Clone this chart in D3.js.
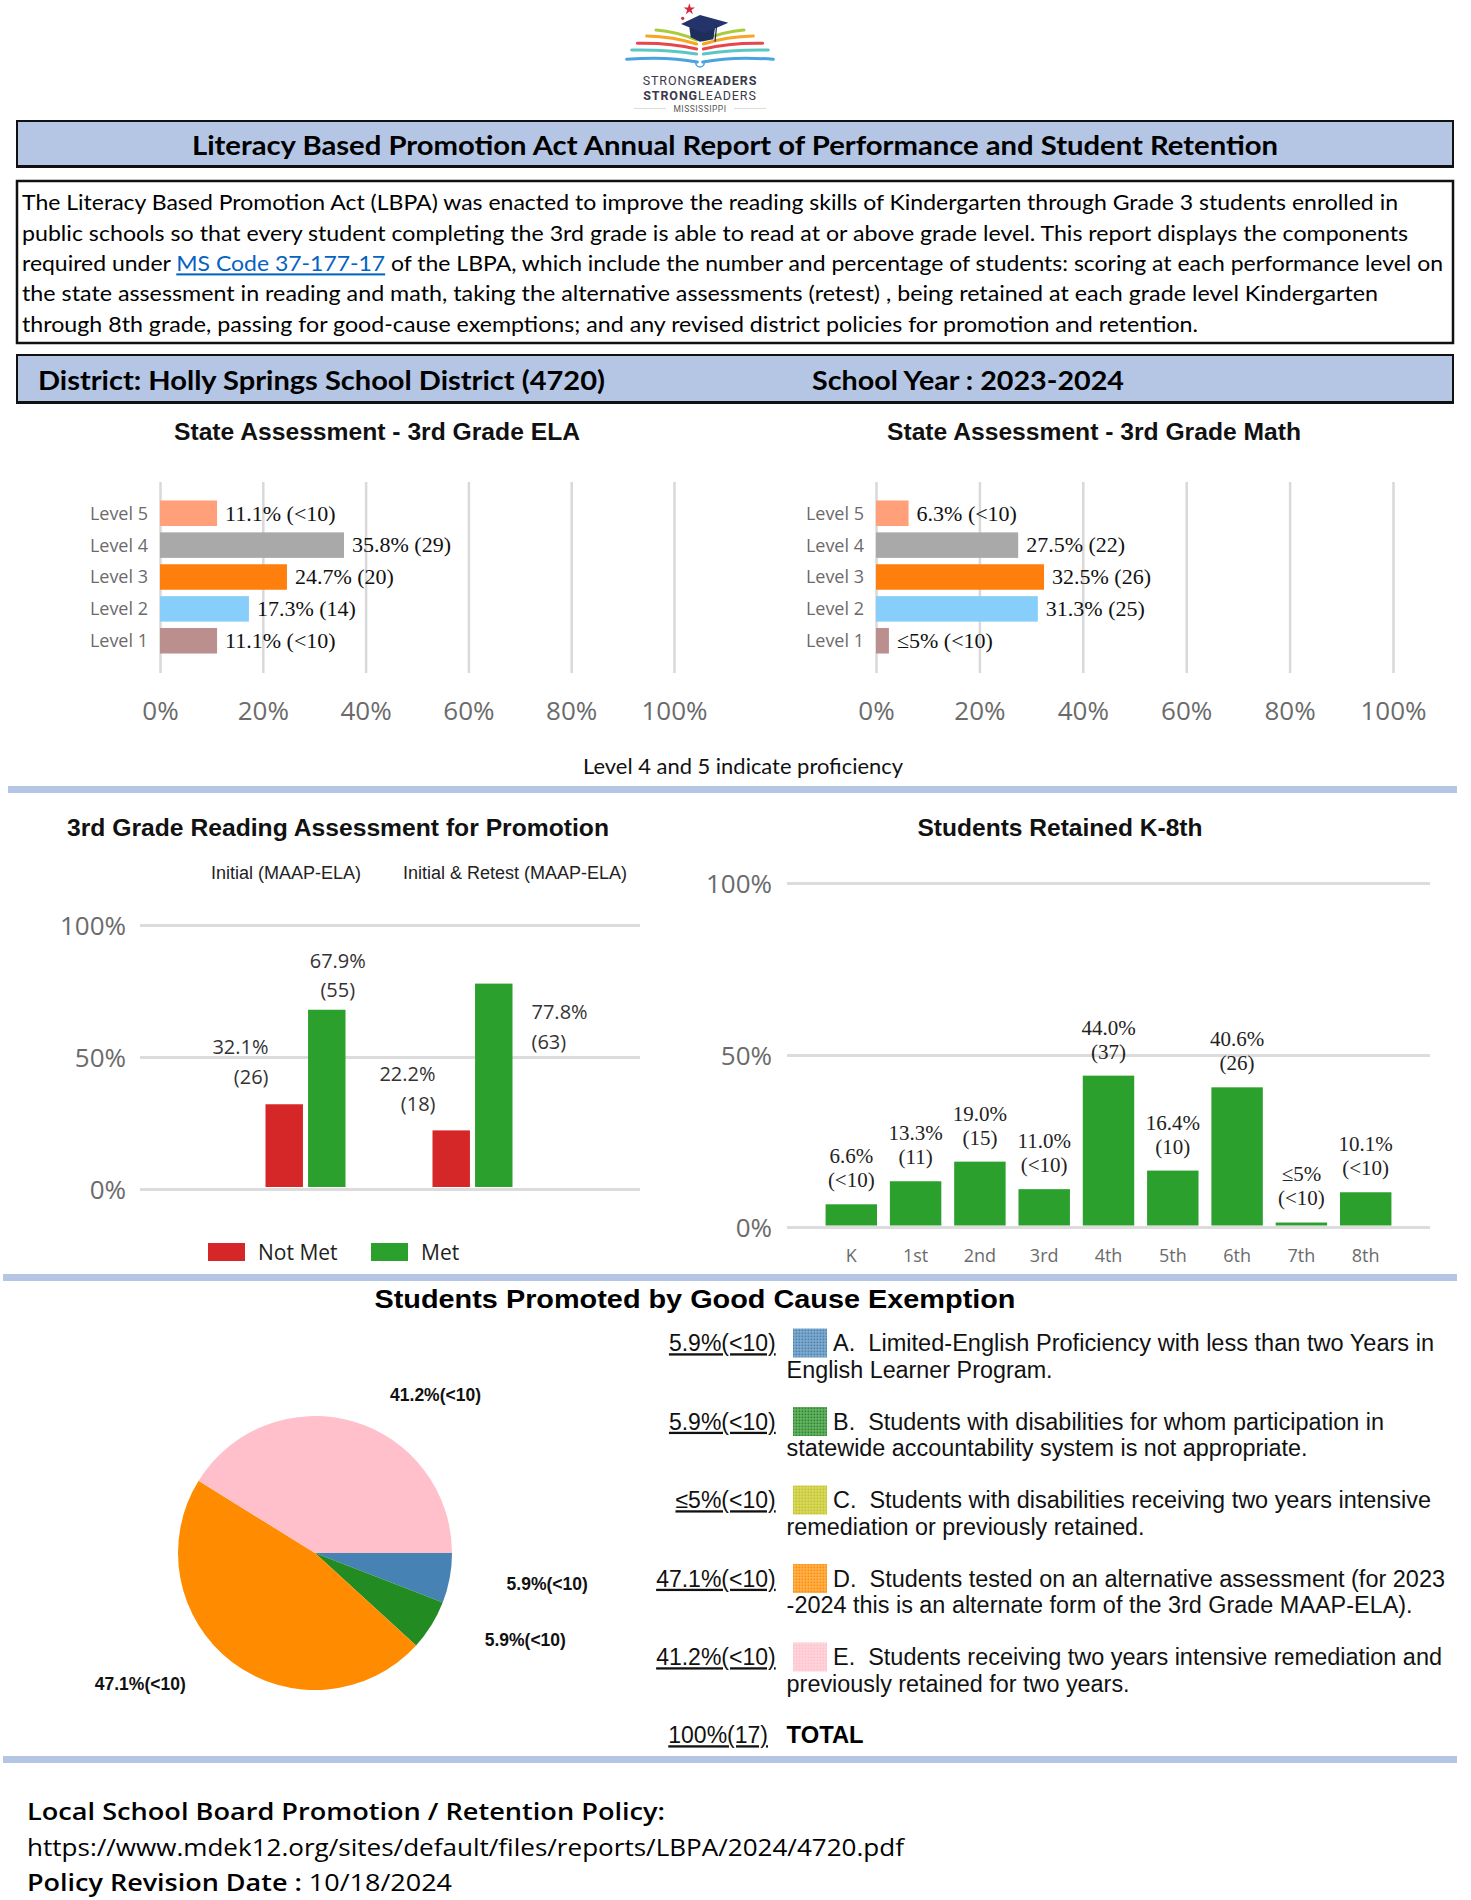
<!DOCTYPE html>
<html><head><meta charset="utf-8">
<script src="https://cdn.jsdelivr.net/npm/d3@7"></script>
<style>
html,body{margin:0;padding:0;background:#fff;}
svg{display:block;}
text{white-space:pre;}
</style></head>
<body>
<svg id="page" width="1471" height="1900"></svg>
<script>
// ================= DATA =================
const levels = ["Level 5","Level 4","Level 3","Level 2","Level 1"];
const levelColors = ["#ffa07a","#a9a9a9","#ff7f0e","#87cefa","#bc8f8f"];
const elaValues = [11.1, 35.8, 24.7, 17.3, 11.1];
const elaLabels = ["11.1% (<10)","35.8% (29)","24.7% (20)","17.3% (14)","11.1% (<10)"];
const mathValues = [6.3, 27.5, 32.5, 31.3, 2.5];
const mathLabels = ["6.3% (<10)","27.5% (22)","32.5% (26)","31.3% (25)","≤5% (<10)"];
const pctTicks = [0,20,40,60,80,100];

const promoGroups = ["Initial (MAAP-ELA)","Initial & Retest (MAAP-ELA)"];
const promoSeries = ["Not Met","Met"];
const promoColors = ["#d62728","#2ca02c"];
const notMetValues = [32.1, 22.2];
const metValues = [67.9, 77.8];
const notMetCounts = ["(26)","(18)"];
const metCounts = ["(55)","(63)"];
const promoTicks = [0,50,100];

const grades = ["K","1st","2nd","3rd","4th","5th","6th","7th","8th"];
const retainedValues = [6.6,13.3,19.0,11.0,44.0,16.4,40.6,1.3,10.1];
const retainedPct = ["6.6%","13.3%","19.0%","11.0%","44.0%","16.4%","40.6%","≤5%","10.1%"];
const retainedCounts = ["(<10)","(11)","(15)","(<10)","(37)","(10)","(26)","(<10)","(<10)"];
const retainedTicks = [0,50,100];

const gceCodes = ["A","B","C","D","E"];
const gceValues = [5.9, 5.9, 0, 47.1, 41.2];
const gceLabels = ["5.9%(<10)","5.9%(<10)","≤5%(<10)","47.1%(<10)","41.2%(<10)"];
const gceColors = ["#4682b4","#228b22","#c4c41c","#ff8c00","#ffc0cb"];
const gceLine1 = [
  "A.  Limited-English Proficiency with less than two Years in",
  "B.  Students with disabilities for whom participation in",
  "C.  Students with disabilities receiving two years intensive",
  "D.  Students tested on an alternative assessment (for 2023",
  "E.  Students receiving two years intensive remediation and"];
const gceLine2 = [
  "English Learner Program.",
  "statewide accountability system is not appropriate.",
  "remediation or previously retained.",
  "-2024 this is an alternate form of the 3rd Grade MAAP-ELA).",
  "previously retained for two years."];
const gceTotal = "100%(17)";

const descLines = [
  "The Literacy Based Promotion Act (LBPA) was enacted to improve the reading skills of Kindergarten through Grade 3 students enrolled in",
  "public schools so that every student completing the 3rd grade is able to read at or above grade level. This report displays the components",
  ["required under ","MS Code 37-177-17"," of the LBPA, which include the number and percentage of students: scoring at each performance level on"],
  "the state assessment in reading and math, taking the alternative assessments (retest) , being retained at each grade level Kindergarten",
  "through 8th grade, passing for good-cause exemptions; and any revised district policies for promotion and retention."
];

// ================= HELPERS =================
const svg = d3.select('#page');
const F_CAL = "Lato, 'Open Sans', sans-serif";
const F_ARIAL = "'Liberation Sans', Arial, sans-serif";
const F_SEGOE = "'Open Sans', 'Noto Sans', sans-serif";
const F_TIMES = "'Liberation Serif', 'Times New Roman', serif";

function styleText(t, s) {
  t.attr('font-family', s.family).attr('font-size', s.size)
   .attr('font-weight', s.weight || 'normal').attr('fill', s.fill || '#000');
  if (s.deco) t.attr('text-decoration', s.deco);
  return t;
}
function richLine(parent, x, yc, pieces, target, base, anchor, dyEm) {
  anchor = anchor || 'start';
  const g = parent.append('g');
  const nodes = pieces.map(p => {
    const t = g.append('text').attr('y', yc).attr('dy', (dyEm == null ? 0.36 : dyEm) + 'em').text(p.t);
    styleText(t, Object.assign({}, base, p));
    return t;
  });
  const widths = nodes.map(n => n.node().getComputedTextLength());
  const total = d3.sum(widths);
  const k = target ? target / total : 1;
  let x0 = anchor === 'start' ? x : anchor === 'end' ? x - total * k : x - total * k / 2;
  nodes.forEach((n, i) => {
    n.attr('x', x0);
    if (target) n.attr('textLength', widths[i] * k).attr('lengthAdjust', 'spacingAndGlyphs');
    x0 += widths[i] * k;
  });
  return g;
}

const BAND = "#b4c6e4";

// ================= LOGO =================
(function logo() {
  const g = svg.append('g');
  const P = (x, y) => [x / 3 + 600, y / 3];
  const curves = [
    ["#a8cc3c", [168,90],[230,95],[290,120]],
    ["#f5a623", [140,108],[220,110],[290,132]],
    ["#e8464f", [112,130],[210,128],[290,147]],
    ["#5cc6c4", [95,150],[200,148],[290,162]],
    ["#4aa3df", [80,178],[200,168],[292,186]]
  ];
  curves.forEach(([c, a, m, b]) => {
    [1, -1].forEach(s => {
      const mx = v => s === 1 ? v : 600 - v;
      const p = d3.path();
      const A = P(mx(a[0]), a[1]), M = P(mx(m[0]), m[1]), B = P(mx(b[0]), b[1]);
      p.moveTo(A[0], A[1]); p.quadraticCurveTo(M[0], M[1], B[0], B[1]);
      g.append('path').attr('d', p.toString()).attr('fill', 'none').attr('stroke', c)
        .attr('stroke-width', 3).attr('stroke-linecap', 'round');
    });
  });
  const cc = P(300, 188);
  g.append('path').attr('d', d3.arc()({innerRadius: 3.5, outerRadius: 5, startAngle: Math.PI / 2, endAngle: 3 * Math.PI / 2}))
    .attr('transform', `translate(${cc[0]},${cc[1]})`).attr('fill', '#4aa3df');
  const cap = [P(300,45), P(243,72), P(312,100), P(385,68)];
  const body = [P(268,82), P(345,84), P(340,118), P(300,125), P(272,112)];
  g.append('polygon').attr('points', body.map(d => d.join(',')).join(' ')).attr('fill', '#1f2d5a');
  g.append('polygon').attr('points', cap.map(d => d.join(',')).join(' ')).attr('fill', '#24336a');
  const t1 = P(350,75), t2 = P(345,125);
  g.append('line').attr('x1', t1[0]).attr('y1', t1[1]).attr('x2', t2[0]).attr('y2', t2[1]).attr('stroke', '#1f2d5a').attr('stroke-width', 1.2);
  const st = P(268,28);
  g.append('path').attr('d', d3.symbol(d3.symbolStar, 40)()).attr('transform', `translate(${st[0]},${st[1]})`).attr('fill', '#d7263d');
  const dt = P(248,55);
  g.append('circle').attr('cx', dt[0]).attr('cy', dt[1]).attr('r', 1.6).attr('fill', '#d7263d');
  const logoText = (yc, parts) => {
    const t = g.append('text').attr('x', 700).attr('y', yc).attr('dy', '0.36em').attr('text-anchor', 'middle')
      .attr('font-family', "Roboto, 'Open Sans', sans-serif").attr('font-size', 12.5).attr('letter-spacing', 0.9)
      .attr('fill', '#3a3a4c');
    parts.forEach(([s, w]) => t.append('tspan').attr('font-weight', w).text(s));
  };
  logoText(80.5, [['STRONG', 'normal'], ['READERS', 'bold']]);
  logoText(95, [['STRONG', 'bold'], ['LEADERS', 'normal']]);
  g.append('text').attr('x', 700).attr('y', 108.5).attr('dy', '0.36em').attr('text-anchor', 'middle')
    .attr('font-family', "Roboto, sans-serif").attr('font-size', 8.5).attr('fill', '#555').attr('letter-spacing', 0.5).text('MISSISSIPPI');
  g.append('line').attr('x1', 634).attr('x2', 666).attr('y1', 108.5).attr('y2', 108.5).attr('stroke', '#ddd');
  g.append('line').attr('x1', 734).attr('x2', 766).attr('y1', 108.5).attr('y2', 108.5).attr('stroke', '#ddd');
})();

// ================= HEADER BOXES =================
svg.append('rect').attr('x', 17).attr('y', 121).attr('width', 1436).attr('height', 45)
  .attr('fill', BAND).attr('stroke', '#111').attr('stroke-width', 2);
svg.append('line').attr('x1', 16).attr('x2', 1454).attr('y1', 166.5).attr('y2', 166.5).attr('stroke', '#111').attr('stroke-width', 3);
richLine(svg, 735, 145, [{t: 'Literacy Based Promotion Act Annual Report of Performance and Student Retention'}], 1086,
  {family: F_CAL, size: 27, weight: 'bold', fill: '#000'}, 'middle');

svg.append('rect').attr('x', 17).attr('y', 181).attr('width', 1436).attr('height', 162)
  .attr('fill', '#fff').attr('stroke', '#111').attr('stroke-width', 2.5);
const descY = [203, 234, 264, 294, 325];
const descW = [1376, 1386, 1421, 1356, 1176];
descLines.forEach((ln, i) => {
  const pieces = Array.isArray(ln)
    ? [{t: ln[0]}, {t: ln[1], fill: '#0563c1', deco: 'underline'}, {t: ln[2]}]
    : [{t: ln}];
  richLine(svg, 22, descY[i], pieces, descW[i], {family: F_CAL, size: 20.5, fill: '#000'}, 'start');
});

svg.append('rect').attr('x', 17).attr('y', 355).attr('width', 1436).attr('height', 47)
  .attr('fill', BAND).attr('stroke', '#111').attr('stroke-width', 2);
svg.append('line').attr('x1', 16).attr('x2', 1454).attr('y1', 402.5).attr('y2', 402.5).attr('stroke', '#111').attr('stroke-width', 3);
richLine(svg, 38, 381, [{t: 'District: Holly Springs School District (4720)'}], 567, {family: F_CAL, size: 26, weight: 'bold'}, 'start');
richLine(svg, 812, 381, [{t: 'School Year : 2023-2024'}], 312, {family: F_CAL, size: 26, weight: 'bold'}, 'start');

// ================= HORIZONTAL BAR CHARTS =================
function hbar(x0, x1, values, labels, title, titleCx, titleW) {
  const g = svg.append('g');
  const x = d3.scaleLinear().domain([0, 100]).range([x0, x1]);
  const y = d3.scaleBand().domain(levels).range([482, 672]).paddingInner(0.2).paddingOuter(0.58);
  richLine(g, titleCx, 432, [{t: title}], titleW, {family: F_ARIAL, size: 23, weight: 'bold', fill: '#111'}, 'middle');
  const ax = g.append('g').attr('transform', 'translate(0,482)')
    .call(d3.axisBottom(x).tickValues(pctTicks).tickFormat(d => d + '%').tickSize(191).tickPadding(29));
  ax.select('.domain').remove();
  ax.selectAll('.tick line').attr('stroke', '#d9d9d9').attr('stroke-width', 2.5);
  ax.selectAll('.tick text').attr('font-family', F_SEGOE).attr('font-size', 26).attr('fill', '#6b6b6b');
  const ay = g.append('g').attr('transform', `translate(${x0},0)`)
    .call(d3.axisLeft(y).tickSize(0).tickPadding(12));
  ay.select('.domain').remove();
  ay.selectAll('.tick text').attr('font-family', F_SEGOE).attr('font-size', 18).attr('fill', '#6b6b6b').attr('dy', '0.36em');
  g.selectAll('rect.bar').data(values).join('rect').attr('class', 'bar')
    .attr('x', x(0)).attr('y', (d, i) => y(levels[i])).attr('width', d => x(d) - x(0))
    .attr('height', y.bandwidth()).attr('fill', (d, i) => levelColors[i]);
  g.selectAll('text.val').data(values).join('text').attr('class', 'val')
    .attr('x', d => x(d) + 8).attr('y', (d, i) => y(levels[i]) + y.bandwidth() / 2).attr('dy', '0.33em')
    .attr('font-family', F_TIMES).attr('font-size', 22).attr('fill', '#111')
    .text((d, i) => labels[i]);
}
hbar(160, 674, elaValues, elaLabels, 'State Assessment - 3rd Grade ELA', 377, 406);
hbar(876, 1393, mathValues, mathLabels, 'State Assessment - 3rd Grade Math', 1094, 414);
richLine(svg, 743, 767, [{t: 'Level 4 and 5 indicate proficiency'}], 320, {family: F_CAL, size: 20.5, fill: '#111'}, 'middle');

// separators
[[8, 786], [3, 1274], [3, 1756]].forEach(([x, y]) =>
  svg.append('rect').attr('x', x).attr('y', y).attr('width', 1457 - x).attr('height', 7).attr('fill', BAND));

// ================= PROMOTION CHART =================
(function promo() {
  const g = svg.append('g');
  richLine(g, 338, 828, [{t: '3rd Grade Reading Assessment for Promotion'}], 542, {family: F_ARIAL, size: 23, weight: 'bold', fill: '#111'}, 'middle');
  const subX = [286, 515];
  promoGroups.forEach((s, i) => richLine(g, subX[i], 873, [{t: s}], null, {family: F_ARIAL, size: 18, fill: '#222'}, 'middle'));
  const y = d3.scaleLinear().domain([0, 100]).range([1189, 925]);
  const ay = g.append('g').attr('transform', 'translate(140,0)')
    .call(d3.axisLeft(y).tickValues(promoTicks).tickFormat(d => d + '%').tickSize(-500).tickPadding(14));
  ay.select('.domain').remove();
  ay.selectAll('.tick line').attr('stroke', '#dcdcdc').attr('stroke-width', 3);
  ay.selectAll('.tick text').attr('font-family', F_SEGOE).attr('font-size', 26).attr('fill', '#6b6b6b').attr('dy', '0.36em');
  const x0 = d3.scaleBand().domain(promoGroups).range([222, 556]);
  const x1 = d3.scaleBand().domain(promoSeries).range([-40, 40]).paddingInner(0.12);
  const rows = [];
  promoGroups.forEach((grp, gi) => {
    rows.push({grp, gi, s: 'Not Met', v: notMetValues[gi], n: notMetCounts[gi], c: promoColors[0]});
    rows.push({grp, gi, s: 'Met', v: metValues[gi], n: metCounts[gi], c: promoColors[1]});
  });
  const bx = d => x0(d.grp) + x0.bandwidth() / 2 + x1(d.s);
  g.selectAll('rect.bar').data(rows).join('rect').attr('class', 'bar')
    .attr('x', bx).attr('y', d => y(d.v)).attr('width', x1.bandwidth())
    .attr('height', d => y(0) - 2 - y(d.v)).attr('fill', d => d.c);
  const place = {
    'Not Met': [{a: 'end', ref: 0, dx: 3, d1: -57, d2: -27}, {a: 'end', ref: 0, dx: 3, d1: -57, d2: -27}],
    'Met': [{a: 'middle', ref: 0.5, dx: 11, d1: -49, d2: -20}, {a: 'start', ref: 1, dx: 19, d1: 28, d2: 58}]
  };
  rows.forEach(d => {
    const p = place[d.s][d.gi];
    const xx = bx(d) + p.ref * x1.bandwidth() + p.dx;
    [[d.v.toFixed(1) + '%', p.d1], [d.n, p.d2]].forEach(([t, dd]) =>
      g.append('text').attr('x', xx).attr('y', y(d.v) + dd).attr('dy', '0.36em').attr('text-anchor', p.a)
        .attr('font-family', F_SEGOE).attr('font-size', 20).attr('fill', '#333').text(t));
  });
  const lx = [208, 371];
  promoSeries.forEach((s, i) => {
    g.append('rect').attr('x', lx[i]).attr('y', 1243).attr('width', 37).attr('height', 18).attr('fill', promoColors[i]);
    g.append('text').attr('x', lx[i] + 50).attr('y', 1252).attr('dy', '0.36em')
      .attr('font-family', F_SEGOE).attr('font-size', 21).attr('fill', '#222').text(s);
  });
})();

// ================= RETAINED CHART =================
(function retained() {
  const g = svg.append('g');
  richLine(g, 1060, 828, [{t: 'Students Retained K-8th'}], 285, {family: F_ARIAL, size: 23, weight: 'bold', fill: '#111'}, 'middle');
  const y = d3.scaleLinear().domain([0, 100]).range([1227, 883]);
  const x = d3.scaleBand().domain(grades).range([787, 1430]).paddingInner(0.2).paddingOuter(0.6);
  const ay = g.append('g').attr('transform', 'translate(787,0)')
    .call(d3.axisLeft(y).tickValues(retainedTicks).tickFormat(d => d + '%').tickSize(-643).tickPadding(15));
  ay.select('.domain').remove();
  ay.selectAll('.tick line').attr('stroke', '#dcdcdc').attr('stroke-width', 3);
  ay.selectAll('.tick text').attr('font-family', F_SEGOE).attr('font-size', 26).attr('fill', '#6b6b6b').attr('dy', '0.36em');
  const axb = g.append('g').attr('transform', 'translate(0,1227)')
    .call(d3.axisBottom(x).tickSize(0).tickPadding(22));
  axb.select('.domain').remove();
  axb.selectAll('.tick text').attr('font-family', F_SEGOE).attr('font-size', 18).attr('fill', '#6b6b6b');
  g.selectAll('rect.bar').data(retainedValues).join('rect').attr('class', 'bar')
    .attr('x', (d, i) => x(grades[i])).attr('y', d => y(d)).attr('width', x.bandwidth())
    .attr('height', d => y(0) - 1.5 - y(d)).attr('fill', '#2ca02c');
  retainedValues.forEach((v, i) => {
    const cx = x(grades[i]) + x.bandwidth() / 2;
    [[retainedPct[i], -48], [retainedCounts[i], -24]].forEach(([t, dd]) =>
      g.append('text').attr('x', cx).attr('y', y(v) + dd).attr('dy', '0.33em').attr('text-anchor', 'middle')
        .attr('font-family', F_TIMES).attr('font-size', 21).attr('fill', '#222').text(t));
  });
})();

// ================= GOOD CAUSE PIE =================
(function pie() {
  const g = svg.append('g');
  richLine(g, 695, 1299, [{t: 'Students Promoted by Good Cause Exemption'}], 641, {family: F_ARIAL, size: 25, weight: 'bold', fill: '#000'}, 'middle');
  const cx = 315, cy = 1553, r = 137;
  const arcs = d3.pie().sort(null).startAngle(Math.PI / 2).endAngle(Math.PI / 2 + 2 * Math.PI)(gceValues);
  const arc = d3.arc().innerRadius(0).outerRadius(r);
  const pg = g.append('g').attr('transform', `translate(${cx},${cy})`);
  pg.selectAll('path').data(arcs).join('path').attr('d', arc).attr('fill', (d, i) => gceColors[i]);
  arcs.forEach((d, i) => {
    if (d.value <= 0) return;
    const a = (d.startAngle + d.endAngle) / 2;
    const lx = Math.sin(a) * r * 1.2, ly = -Math.cos(a) * r * 1.2;
    const right = lx >= 0;
    pg.append('text').attr('x', lx + (right ? 30 : -30)).attr('y', ly).attr('dy', '0.36em')
      .attr('text-anchor', right ? 'start' : 'end')
      .attr('font-family', F_ARIAL).attr('font-size', 17.5).attr('font-weight', 'bold').attr('fill', '#111')
      .text(gceLabels[i]);
  });
  const defs = svg.append('defs');
  gceColors.forEach((c, i) => {
    const p = defs.append('pattern').attr('id', 'pat' + i).attr('patternUnits', 'userSpaceOnUse').attr('width', 3).attr('height', 3);
    p.append('rect').attr('width', 3).attr('height', 3).attr('fill', d3.interpolateRgb(c, '#fff')(0.35));
    p.append('rect').attr('x', 0.5).attr('y', 0.5).attr('width', 1.8).attr('height', 1.8).attr('fill', c);
  });
  const base = {family: F_ARIAL, size: 23, fill: '#111'};
  const w1 = [601, 551, 598, 612, 609];
  const w2 = [266, 521, 358, 626, 343];
  gceCodes.forEach((code, i) => {
    const yc = 1343 + i * 78.5;
    g.append('text').attr('x', 775.7).attr('y', yc).attr('dy', '0.36em').attr('text-anchor', 'end')
      .attr('font-family', F_ARIAL).attr('font-size', 23).attr('fill', '#111').attr('text-decoration', 'underline')
      .text(gceLabels[i]);
    g.append('rect').attr('x', 793).attr('y', yc - 14.5).attr('width', 34).attr('height', 29).attr('fill', `url(#pat${i})`);
    richLine(g, 833, yc, [{t: gceLine1[i]}], w1[i], base, 'start');
    richLine(g, 786.6, yc + 26.5, [{t: gceLine2[i]}], w2[i], base, 'start');
  });
  g.append('text').attr('x', 768).attr('y', 1735).attr('dy', '0.36em').attr('text-anchor', 'end')
    .attr('font-family', F_ARIAL).attr('font-size', 23).attr('fill', '#111').attr('text-decoration', 'underline')
    .text(gceTotal);
  richLine(g, 786.6, 1735, [{t: 'TOTAL'}], 77, {family: F_ARIAL, size: 23, weight: 'bold', fill: '#000'}, 'start');
})();

// ================= FOOTER =================
const fb = {family: F_SEGOE, size: 24, fill: '#000'};
richLine(svg, 27, 1811, [{t: 'Local School Board Promotion / Retention Policy:', weight: 600}], 638, fb, 'start');
richLine(svg, 27, 1847, [{t: 'https://www.mdek12.org/sites/default/files/reports/LBPA/2024/4720.pdf'}], 877, fb, 'start');
richLine(svg, 27, 1882, [{t: 'Policy Revision Date : ', weight: 600}, {t: '10/18/2024'}], 425, fb, 'start');
</script>
</body></html>
